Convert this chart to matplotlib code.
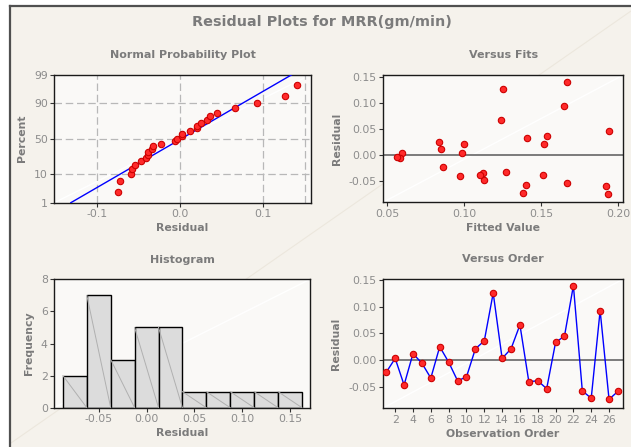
import numpy as np
import matplotlib
matplotlib.use('Agg')
import matplotlib.pyplot as plt
from matplotlib.patches import Rectangle
from matplotlib.lines import Line2D
from statistics import NormalDist

# residuals in observation order, with the matching fitted values
order = list(range(1, 28))
resid = [-0.023, 0.003, -0.047, 0.012, -0.006, -0.034, 0.025, -0.004, -0.039,
         -0.032, 0.021, 0.036, 0.126, 0.003, 0.021, 0.066, -0.041, -0.039,
         -0.054, 0.033, 0.045, 0.140, -0.058, -0.072, 0.093, -0.074, -0.059]
fits = [0.0865, 0.0600, 0.1127, 0.0852, 0.0584, 0.1120, 0.0837, 0.0567, 0.1105,
        0.1270, 0.1000, 0.1540, 0.1254, 0.0987, 0.1520, 0.1240, 0.0970, 0.1510,
        0.1670, 0.1410, 0.1940, 0.1665, 0.1400, 0.1380, 0.1650, 0.1933, 0.1918]

pct_ticks = [1, 10, 50, 90, 99]
hist_start = -0.0875
hist_width = 0.025
hist_nbins = 10

W, H = 631, 447
grey = '#7b7b7b'
tick_grey = '#8c8c8c'
bg = '#f5f2ec'
panel = '#faf9f7'
red_face = '#ff2a2a'
red_edge = '#cc0000'

plt.rcParams['font.family'] = 'DejaVu Sans'
plt.rcParams['axes.unicode_minus'] = False

fig = plt.figure(figsize=(W / 100, H / 100), dpi=100, facecolor='white')

def px(x0, y0, x1, y1):
    # pixel box -> figure fraction [left, bottom, width, height]
    return [x0 / W, 1 - y1 / H, (x1 - x0) / W, (y1 - y0) / H]

# background panel with border on top and left
fig.patches.append(Rectangle((9.5 / W, 0), 1, 1 - 5.5 / H, transform=fig.transFigure,
                             facecolor=bg, edgecolor='none', zorder=-10))
fig.lines.append(Line2D([9.5 / W, 1], [1 - 5.5 / H] * 2, transform=fig.transFigure,
                        color='#505050', lw=1.6))
fig.lines.append(Line2D([9.5 / W] * 2, [0, 1 - 5.5 / H], transform=fig.transFigure,
                        color='#505050', lw=1.6))
fig.lines.append(Line2D([11 / W, 1], [1 - 443 / H, 1 - 11 / H], transform=fig.transFigure,
                        color='#ece7dd', lw=0.8, zorder=-5))

fig.text(322 / W, 1 - 22 / H, 'Residual Plots for MRR(gm/min)', ha='center', va='center',
         fontsize=10.4, fontweight='bold', color=grey)


def style(ax, title, xlabel, ylabel):
    ax.set_facecolor(panel)
    ax.plot([0, 1], [0, 1], transform=ax.transAxes, color='white', lw=1, zorder=0)
    for s in ax.spines.values():
        s.set_color('#1a1a1a')
        s.set_linewidth(1)
    ax.tick_params(labelsize=7.8, labelcolor=tick_grey, color='#333333', length=3, width=0.8, pad=1.5)
    ax.set_title(title, fontsize=8, fontweight='bold', color=grey, pad=12)
    ax.set_xlabel(xlabel, fontsize=7.8, fontweight='bold', color=grey, labelpad=3)
    ax.set_ylabel(ylabel, fontsize=7.8, fontweight='bold', color=grey, labelpad=5)


nd = NormalDist()
res = np.array(resid)
n = len(res)
mk = dict(ms=4.6, mfc=red_face, mec=red_edge, mew=0.8)

# Normal probability plot
ax1 = fig.add_axes(px(54.3, 74.7, 310.7, 202.7))
style(ax1, 'Normal Probability Plot', 'Residual', 'Percent')
srt = np.sort(res)
z = [nd.inv_cdf((i - 0.3) / (n + 0.4)) for i in range(1, n + 1)]
zlo, zhi = nd.inv_cdf(0.01), nd.inv_cdf(0.99)
mu, sd = res.mean(), res.std(ddof=1)
ax1.plot([mu + sd * zlo, mu + sd * zhi], [zlo, zhi], color='#0000ff', lw=1, zorder=3)
ax1.plot(srt, z, 'o', zorder=4, **mk)
ax1.set_yticks([nd.inv_cdf(p / 100) for p in pct_ticks])
ax1.set_yticklabels([str(p) for p in pct_ticks])
ax1.set_ylim(zlo, zhi)
ax1.set_xlim(-0.151, 0.157)
ax1.set_xticks([-0.1, 0.0, 0.1])
ax1.set_xticklabels(['-0.1', '0.0', '0.1'])
for gx in [-0.1, 0.0, 0.1, 0.15]:
    ax1.axvline(gx, color='#b8b8b8', lw=0.9, ls=(0, (6, 3)), zorder=1)
for p in pct_ticks[1:-1]:
    ax1.axhline(nd.inv_cdf(p / 100), color='#b8b8b8', lw=0.9, ls=(0, (6, 3)), zorder=1)

# Versus fits
ax2 = fig.add_axes(px(383, 75, 623.3, 202.3))
style(ax2, 'Versus Fits', 'Fitted Value', 'Residual')
ax2.axhline(0, color='#666666', lw=1.2, zorder=2)
ax2.plot(fits, resid, 'o', zorder=4, **mk)
ax2.set_xlim(0.0474, 0.2032)
ax2.set_ylim(-0.0906, 0.153)
ax2.set_xticks([0.05, 0.10, 0.15, 0.20])
ax2.set_xticklabels(['0.05', '0.10', '0.15', '0.20'])
ax2.set_yticks([-0.05, 0.0, 0.05, 0.10, 0.15])
ax2.set_yticklabels(['-0.05', '0.00', '0.05', '0.10', '0.15'])

# Histogram
ax3 = fig.add_axes(px(54, 279.3, 310, 407.7))
style(ax3, 'Histogram', 'Residual', 'Frequency')
edges = hist_start + hist_width * np.arange(hist_nbins + 1)
counts, _, bars = ax3.hist(res, bins=edges, color='#dcdcdc', edgecolor='black', lw=1, zorder=2)
for b in bars:
    x0, w, h = b.get_x(), b.get_width(), b.get_height()
    ax3.plot([x0, x0 + w], [h, 0], color='#b0b0b0', lw=0.7, zorder=3)
ax3.set_xlim(-0.0968, 0.1709)
ax3.set_ylim(0, 8)
ax3.set_xticks([-0.05, 0.0, 0.05, 0.10, 0.15])
ax3.set_xticklabels(['-0.05', '0.00', '0.05', '0.10', '0.15'])
ax3.set_yticks([0, 2, 4, 6, 8])

# Versus order
ax4 = fig.add_axes(px(382.7, 279, 623.3, 408.3))
style(ax4, 'Versus Order', 'Observation Order', 'Residual')
ax4.axhline(0, color='#666666', lw=1.2, zorder=2)
ax4.plot(order, resid, '-', color='#0000ff', lw=1, zorder=3)
ax4.plot(order, resid, 'o', zorder=4, **mk)
ax4.set_xlim(0.6, 27.6)
ax4.set_ylim(-0.0909, 0.1524)
ax4.set_xticks(list(range(2, 27, 2)))
ax4.set_yticks([-0.05, 0.0, 0.05, 0.10, 0.15])
ax4.set_yticklabels(['-0.05', '0.00', '0.05', '0.10', '0.15'])

fig.savefig('out.png', dpi=100, facecolor=fig.get_facecolor())
